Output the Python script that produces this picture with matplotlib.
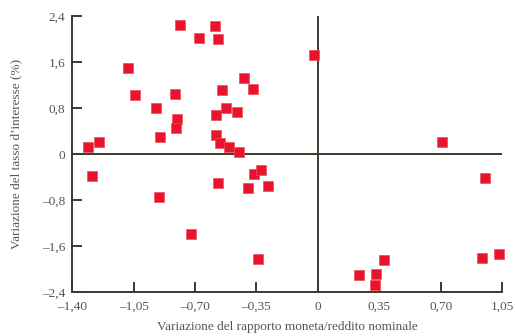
import matplotlib
matplotlib.use("Agg")
import matplotlib.pyplot as plt

# rapporto moneta/reddito (x) vs tasso d'interesse (y)
money_ratio = [-0.785, -0.678, -1.083, -1.042, -0.814, -0.922, -0.805, -0.810,
               -0.900, -1.247, -1.308, -0.586, -0.567, -0.019, -0.420, -0.371,
               -0.547, -0.523, -0.460, -0.582, -0.582, -0.557, -0.504, -0.447,
               -1.287, -0.567, -0.363, -0.323, -0.396, -0.285, -0.905, -0.724,
               -0.340, 0.710, 0.952, 0.376, 0.234, 0.331, 0.327, 0.933, 1.034]
interest_rate = [2.25, 2.02, 1.49, 1.03, 1.05, 0.81, 0.62, 0.45,
                 0.30, 0.21, 0.125, 2.23, 2.00, 1.72, 1.32, 1.13,
                 1.11, 0.80, 0.74, 0.68, 0.33, 0.19, 0.13, 0.03,
                 -0.37, -0.50, -0.34, -0.27, -0.59, -0.56, -0.74, -1.39,
                 -1.82, 0.21, -0.41, -1.83, -2.10, -2.08, -2.27, -1.81, -1.73]

xticks = [-1.40, -1.05, -0.70, -0.35, 0, 0.35, 0.70, 1.05]
xticklabels = ["–1,40", "–1,05", "–0,70", "–0,35", "0", "0,35", "0,70", "1,05"]
yticks = [-2.4, -1.6, -0.8, 0, 0.8, 1.6, 2.4]
yticklabels = ["–2,4", "–1,6", "–0,8", "0", "0,8", "1,6", "2,4"]

line_col = "#3b3a2c"
text_col = "#555555"
plt.rcParams["font.family"] = ["Liberation Serif", "DejaVu Serif"]

fig = plt.figure(figsize=(5.15, 3.36), dpi=100)
ax = fig.add_axes([0.140, 0.130, 0.835, 0.822])

ax.axhline(0, color=line_col, lw=1.4, zorder=1)
ax.axvline(0, color=line_col, lw=1.4, zorder=1)
ax.plot(money_ratio, interest_rate, "s", color="#e8142c", markersize=7,
        markeredgecolor="#f04a5a", markeredgewidth=0.5, zorder=3, clip_on=False)

ax.set_xlim(-1.40, 1.05)
ax.set_ylim(-2.4, 2.4)
ax.set_xticks(xticks)
ax.set_xticklabels(xticklabels)
ax.set_yticks(yticks)
ax.set_yticklabels(yticklabels)

for side in ("top", "right"):
    ax.spines[side].set_visible(False)
for side in ("left", "bottom"):
    ax.spines[side].set_color(line_col)
    ax.spines[side].set_linewidth(1.4)

ax.tick_params(direction="in", length=7, width=1.4, color=line_col,
               labelcolor=text_col, labelsize=9.5)
ax.tick_params(axis="x", pad=6)
ax.tick_params(axis="y", pad=5)

ax.set_xlabel("Variazione del rapporto moneta/reddito nominale",
              color=text_col, fontsize=9.5, labelpad=6)
ax.set_ylabel("Variazione del tasso d’interesse (%)",
              color=text_col, fontsize=9.5, labelpad=14)

fig.savefig("out.png", dpi=100)
